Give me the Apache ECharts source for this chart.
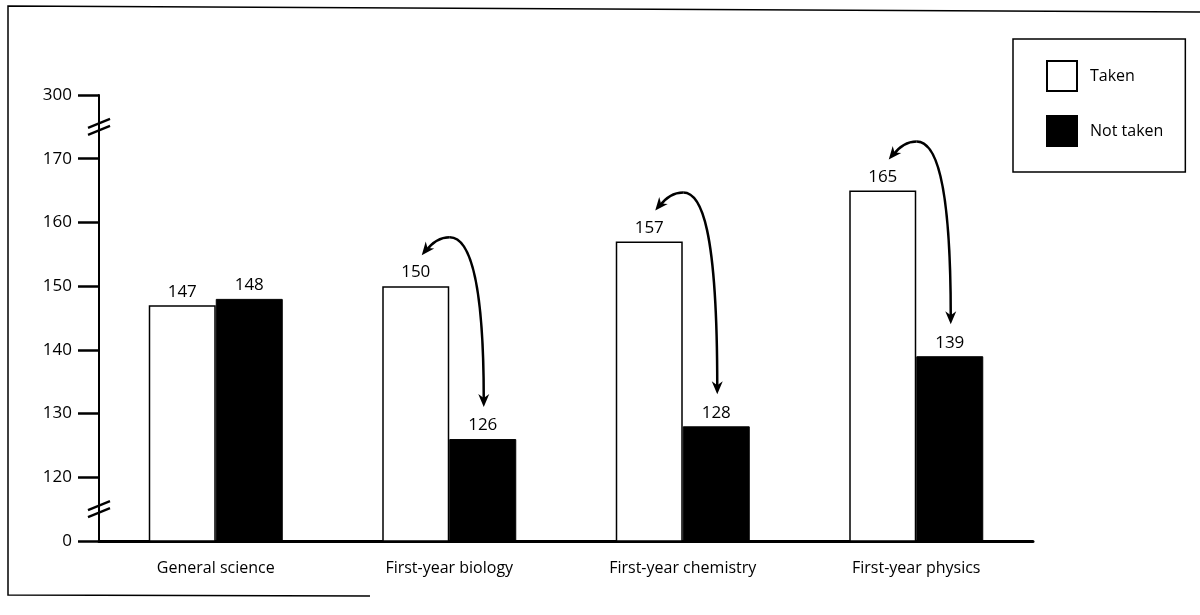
<!DOCTYPE html>
<html>
<head>
<meta charset="utf-8">
<script src="https://cdn.jsdelivr.net/npm/echarts@6/dist/echarts.min.js"></script>
<style>
  html, body { margin: 0; padding: 0; background: #fff; }
  #chart { width: 1200px; height: 615px; }
</style>
</head>
<body>
<div id="chart"></div>
<script>
  var categories = ['General science', 'First-year biology', 'First-year chemistry', 'First-year physics'];
  var takenValues = [147, 150, 157, 165];
  var notTakenValues = [148, 126, 128, 139];
  // broken axis: the bottom tick stands for 0 and the top tick for 300
  var axisBottom = 110, axisTop = 180;
  var tickLabels = {110: '0', 180: '300'};
  var breakValues = [115, 175];
  // groups that get a curved arrow between the two bars
  var arrowGroups = [1, 2, 3];

  var font = '"Open Sans", "Noto Sans", sans-serif';
  var chart = echarts.init(document.getElementById('chart'));

  chart.setOption({
    animation: false,
    backgroundColor: '#fff',
    grid: {left: 99, right: 167, top: 95, bottom: 74},
    legend: {
      orient: 'vertical',
      left: 1013,
      top: 39,
      padding: [21, 22, 25, 33],
      itemWidth: 30,
      itemHeight: 30,
      itemGap: 23,
      icon: 'rect',
      borderColor: '#000',
      borderWidth: 1.5,
      textStyle: {fontFamily: font, fontSize: 16, color: '#000', padding: [0, 0, 0, 8]},
      data: ['Taken', 'Not taken']
    },
    xAxis: {
      type: 'category',
      data: categories,
      axisTick: {show: false},
      axisLine: {lineStyle: {color: '#000', width: 3}},
      axisLabel: {color: '#000', fontFamily: font, fontSize: 16, margin: 19}
    },
    yAxis: {
      type: 'value',
      min: axisBottom,
      max: axisTop,
      interval: 10,
      splitLine: {show: false},
      axisLine: {show: true, lineStyle: {color: '#000', width: 2}},
      axisTick: {show: true, length: 21, lineStyle: {color: '#000', width: 2.5}},
      axisLabel: {
        color: '#000', fontFamily: font, fontSize: 17, margin: 27,
        formatter: function (v) { return tickLabels[v] || String(v); }
      }
    },
    series: [
      {
        name: 'Taken',
        type: 'bar',
        data: takenValues,
        barWidth: 67,
        barGap: '0%',
        itemStyle: {color: '#fff', borderColor: '#000', borderWidth: 1.5},
        label: {show: true, position: 'top', color: '#000', fontFamily: font, fontSize: 17}
      },
      {
        name: 'Not taken',
        type: 'bar',
        data: notTakenValues,
        barWidth: 67,
        itemStyle: {color: '#000', borderColor: '#000', borderWidth: 1},
        label: {show: true, position: 'top', color: '#000', fontFamily: font, fontSize: 17}
      }
    ]
  });

  function head(tip, from) {
    var dx = tip[0] - from[0], dy = tip[1] - from[1];
    var len = Math.sqrt(dx * dx + dy * dy);
    var ux = dx / len, uy = dy / len, px = -uy, py = ux;
    var L = 13, W = 5.5;
    return {
      type: 'polygon',
      shape: {points: [
        tip,
        [tip[0] - ux * L + px * W, tip[1] - uy * L + py * W],
        [tip[0] - ux * L * 0.7, tip[1] - uy * L * 0.7],
        [tip[0] - ux * L - px * W, tip[1] - uy * L - py * W]
      ]},
      style: {fill: '#000'}
    };
  }

  function curve(a, c1, c2, b) {
    return {
      type: 'bezierCurve',
      shape: {x1: a[0], y1: a[1], cpx1: c1[0], cpy1: c1[1], cpx2: c2[0], cpy2: c2[1], x2: b[0], y2: b[1]},
      style: {stroke: '#000', lineWidth: 2.5, fill: null}
    };
  }

  var graphics = [];
  // frame
  graphics.push({type: 'polyline', shape: {points: [[1200, 12], [8, 6], [8, 595], [370, 596]]},
    style: {stroke: '#000', lineWidth: 1.5, fill: null}});

  // axis break marks
  var yAxisX = 99;
  breakValues.forEach(function (v) {
    var y = chart.convertToPixel({yAxisIndex: 0}, v);
    [-3.5, 3.5].forEach(function (off) {
      graphics.push({type: 'line',
        shape: {x1: yAxisX - 11, y1: y + off + 4.5, x2: yAxisX + 11, y2: y + off - 4.5},
        style: {stroke: '#000', lineWidth: 2.2}});
    });
  });

  // curved arrows
  arrowGroups.forEach(function (i) {
    var cx = chart.convertToPixel({xAxisIndex: 0}, categories[i]);
    var topTaken = chart.convertToPixel({yAxisIndex: 0}, takenValues[i]);
    var topNot = chart.convertToPixel({yAxisIndex: 0}, notTakenValues[i]);
    var p0 = [cx - 33.5 + 6, topTaken - 31];
    var p3 = [cx + 33.5 + 1, topNot - 32];
    var pk = [p0[0] + 28, p0[1] - 18];
    var c1 = [p0[0] + 9, p0[1] - 11];
    var s0 = [p0[0] + 4, p0[1] - 4];
    graphics.push(curve(s0, c1, [pk[0] - 12, pk[1]], pk));
    graphics.push(curve(pk, [pk[0] + 18, pk[1]], [p3[0], pk[1] + 35], [p3[0], p3[1] - 8]));
    graphics.push(head(p0, c1));
    graphics.push(head(p3, [p3[0], p3[1] - 30]));
  });

  chart.setOption({graphic: graphics});
</script>
</body>
</html>
